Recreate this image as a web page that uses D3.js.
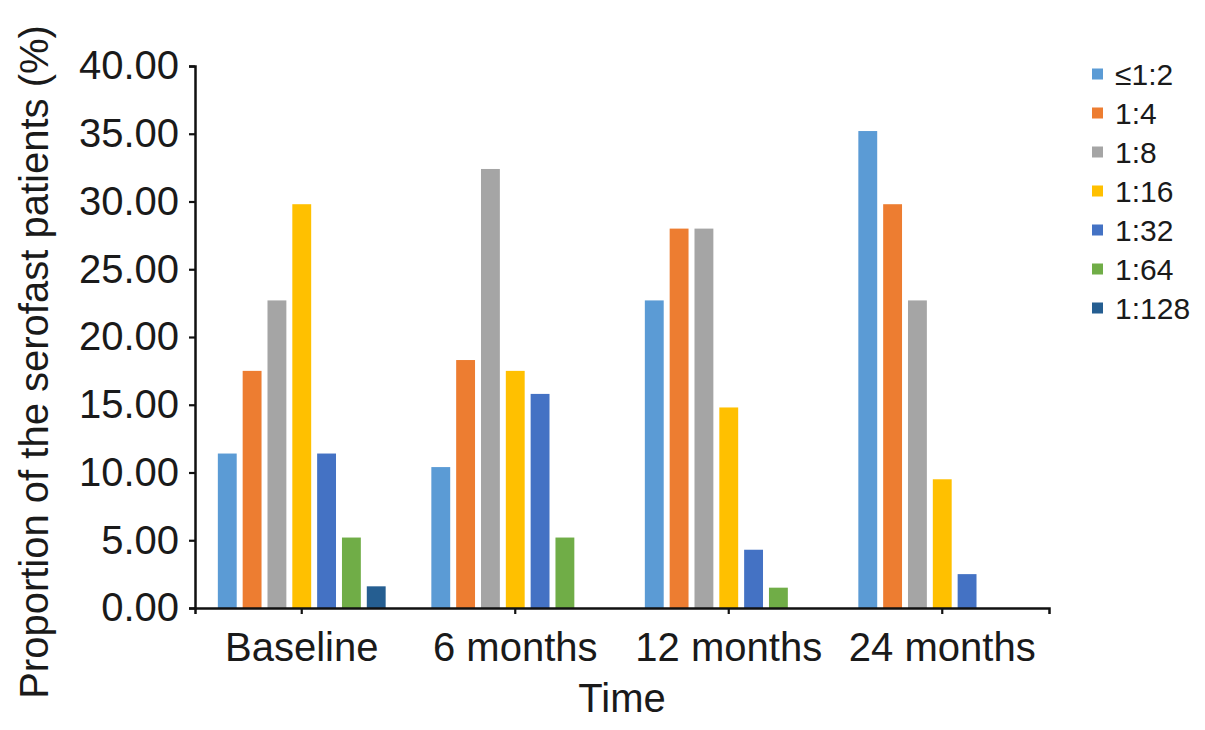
<!DOCTYPE html>
<html>
<head>
<meta charset="utf-8">
<script src="https://cdn.jsdelivr.net/npm/d3@7/dist/d3.min.js"></script>
<style>
  html, body { margin: 0; padding: 0; background: #fff; }
  svg { display: block; font-family: "Liberation Sans", Arial, Helvetica, sans-serif; }
</style>
</head>
<body>
<svg id="chart" width="1205" height="730"></svg>
<script>
const categories = ["Baseline", "6 months", "12 months", "24 months"];
const seriesNames = ["\u22641:2", "1:4", "1:8", "1:16", "1:32", "1:64", "1:128"];
const seriesColors = ["#5B9BD5", "#ED7D31", "#A5A5A5", "#FFC000", "#4472C4", "#70AD47", "#255E91"];
// values per series, one entry per category
const s_le1_2  = [11.4, 10.4, 22.7, 35.2];
const s_1_4    = [17.5, 18.3, 28.0, 29.8];
const s_1_8    = [22.7, 32.4, 28.0, 22.7];
const s_1_16   = [29.8, 17.5, 14.8, 9.5];
const s_1_32   = [11.4, 15.8, 4.3, 2.5];
const s_1_64   = [5.2, 5.2, 1.5, 0];
const s_1_128  = [1.6, 0, 0, 0];
const yTicks = [0, 5, 10, 15, 20, 25, 30, 35, 40];

const seriesValues = [s_le1_2, s_1_4, s_1_8, s_1_16, s_1_32, s_1_64, s_1_128];

const svg = d3.select("#chart");
const mLeft = 195, mRight = 1049, mTop = 66, mBottom = 608;

const x0 = d3.scaleBand().domain(categories).range([mLeft, mRight]).paddingInner(0).paddingOuter(0);
const x1 = d3.scaleBand().domain(seriesNames).range([0, x0.bandwidth()]).paddingInner(0.24).paddingOuter(0.92);
const y = d3.scaleLinear().domain([0, 40]).range([mBottom, mTop]);
const color = d3.scaleOrdinal().domain(seriesNames).range(seriesColors);

const data = [];
categories.forEach((c, ci) => {
  seriesNames.forEach((s, si) => {
    data.push({cat: c, series: s, value: seriesValues[si][ci]});
  });
});

svg.append("g").selectAll("rect").data(data.filter(d => d.value > 0)).join("rect")
  .attr("x", d => x0(d.cat) + x1(d.series))
  .attr("y", d => y(d.value))
  .attr("width", x1.bandwidth())
  .attr("height", d => y(0) - y(d.value))
  .attr("fill", d => color(d.series));

// Y axis
const yAxis = svg.append("g").attr("transform", `translate(${mLeft},0)`)
  .call(d3.axisLeft(y).tickValues(yTicks).tickFormat(d3.format(".2f")).tickSize(6).tickPadding(10));
yAxis.selectAll("text").attr("font-size", 40).attr("fill", "#1a1a1a").attr("font-family", "'Liberation Sans', Arial, sans-serif");
yAxis.selectAll("line").attr("stroke", "#111").attr("stroke-width", 2.2);
yAxis.select(".domain").attr("stroke", "#111").attr("stroke-width", 2.5);

// X axis
const xAxis = svg.append("g").attr("transform", `translate(0,${mBottom})`)
  .call(d3.axisBottom(x0).tickSize(6).tickSizeOuter(6).tickPadding(19));
xAxis.selectAll("text").attr("font-size", 40).attr("fill", "#1a1a1a").attr("font-family", "'Liberation Sans', Arial, sans-serif");
xAxis.selectAll("line").attr("stroke", "#111").attr("stroke-width", 2.2);
xAxis.select(".domain").attr("stroke", "#111").attr("stroke-width", 2.5);

// Axis titles
svg.append("text")
  .attr("x", (mLeft + mRight) / 2).attr("y", 712)
  .attr("text-anchor", "middle").attr("font-size", 40).attr("fill", "#1a1a1a")
  .text("Time");

svg.append("text")
  .attr("transform", `translate(48,362) rotate(-90)`)
  .attr("text-anchor", "middle").attr("font-size", 40).attr("fill", "#1a1a1a")
  .text("Proportion of the serofast patients (%)");

// Legend
const legend = svg.append("g").attr("transform", "translate(1092,74)");
const li = legend.selectAll("g").data(seriesNames).join("g")
  .attr("transform", (d, i) => `translate(0,${i * 39})`);
li.append("rect").attr("x", 0).attr("y", -5.5).attr("width", 11).attr("height", 11).attr("fill", d => color(d));
li.append("text").attr("x", 23).attr("y", 0).attr("dy", "0.35em")
  .attr("font-size", 30).attr("fill", "#1a1a1a").text(d => d);
</script>
</body>
</html>
